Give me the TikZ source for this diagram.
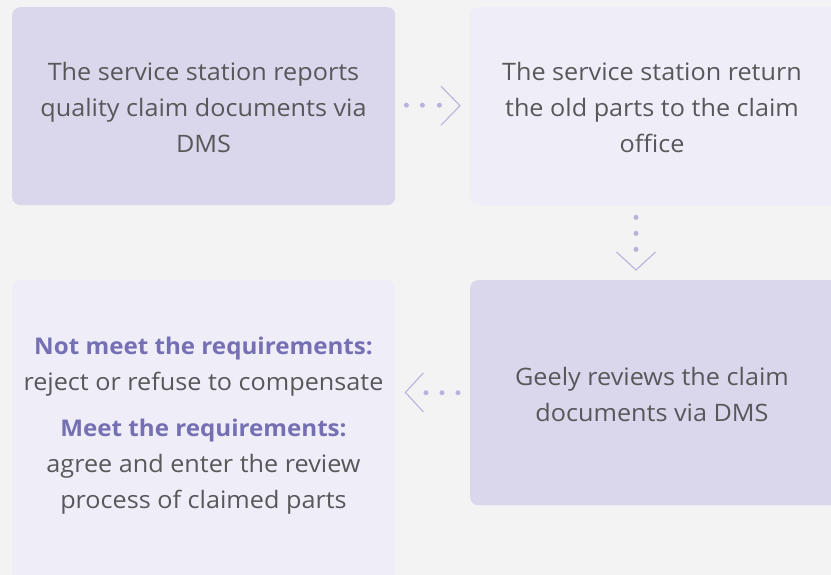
\documentclass[tikz,border=0pt]{standalone}
\usepackage{fontspec}
\setmainfont{Open Sans}[FakeStretch=1.05]
\usetikzlibrary{calc}
\definecolor{bg}{HTML}{F3F3F3}
\definecolor{boxdark}{HTML}{DAD6EC}
\definecolor{boxlight}{HTML}{EFEDF8}
\definecolor{arrowc}{HTML}{B9B2DD}
\definecolor{txt}{HTML}{58585A}
\definecolor{hl}{HTML}{7570B3}
\newcommand{\hlbf}[1]{\textcolor{hl}{\fontsize{23}{36}\selectfont\bfseries #1}}
\tikzset{
  x=1pt, y=-1pt,
  box/.style={rectangle, rounded corners=8pt, draw=none, inner sep=0pt, anchor=north west},
  darkbox/.style={box, fill=boxdark},
  lightbox/.style={box, fill=boxlight},
  label/.style={align=center, text=txt, font=\fontsize{24}{36}\selectfont, inner sep=0pt},
  dot/.style={circle, fill=arrowc, inner sep=0pt, minimum size=5pt},
  chev/.style={draw=arrowc, line width=1.1pt}
}
\begin{document}
\begin{tikzpicture}
\fill[bg] (0,0) rectangle (831,575);
\useasboundingbox (0,0) rectangle (831,575);
\clip (0,0) rectangle (831,575);
\node[darkbox, minimum width=383pt, minimum height=198pt] (b1) at (12,7) {};
\node[lightbox, minimum width=383pt, minimum height=198pt] (b2) at (470,7) {};
\node[darkbox, minimum width=383pt, minimum height=225pt] (b3) at (470,280) {};
\node[lightbox, minimum width=383pt, minimum height=330pt] (b4) at (12,280) {};
\node[label] (t1) at (203.5,108) {The service station reports\\quality claim documents via\\DMS};
\node[label] (t2) at (652,108) {The service station return\\the old parts to the claim\\office};
\node[label] (t3) at (652,394) {Geely reviews the claim\\documents via DMS};
\node[label] (t4) at (203.5,426) {\hlbf{Not meet the requirements:}\\reject or refuse to compensate\\[10pt]\hlbf{Meet the requirements:}\\agree and enter the review\\process of claimed parts};
% arrow 1
\node[dot] (d11) at ($(b1.east)+(11,-1)$) {};
\node[dot] (d12) at ($(b1.east)+(27,-1)$) {};
\node[dot] (d13) at ($(b1.east)+(44,-1)$) {};
\coordinate (p1) at ($(b2.west)+(-10,-0.5)$);
\draw[chev] ($(p1)+(-19,-19.5)$) -- (p1) -- ($(p1)+(-19,19.5)$);
% arrow 2
\coordinate (a2) at ($(b2.south west)+(166,0)$);
\node[dot] (d21) at ($(a2)+(0,12)$) {};
\node[dot] (d22) at ($(a2)+(0,28)$) {};
\node[dot] (d23) at ($(a2)+(0,44)$) {};
\coordinate (p2) at ($(b3.north west)+(166,-10)$);
\draw[chev] ($(p2)+(-19.5,-18)$) -- (p2) -- ($(p2)+(19.5,-18)$);
% arrow 3
\node[dot] (d31) at ($(b3.west)+(-12,0)$) {};
\node[dot] (d32) at ($(b3.west)+(-28,0)$) {};
\node[dot] (d33) at ($(b3.west)+(-44,0)$) {};
\coordinate (p3) at ($(b1.south east)+(10,187)$);
\draw[chev] ($(p3)+(18,-19.5)$) -- (p3) -- ($(p3)+(18,19.5)$);
\end{tikzpicture}
\end{document}
